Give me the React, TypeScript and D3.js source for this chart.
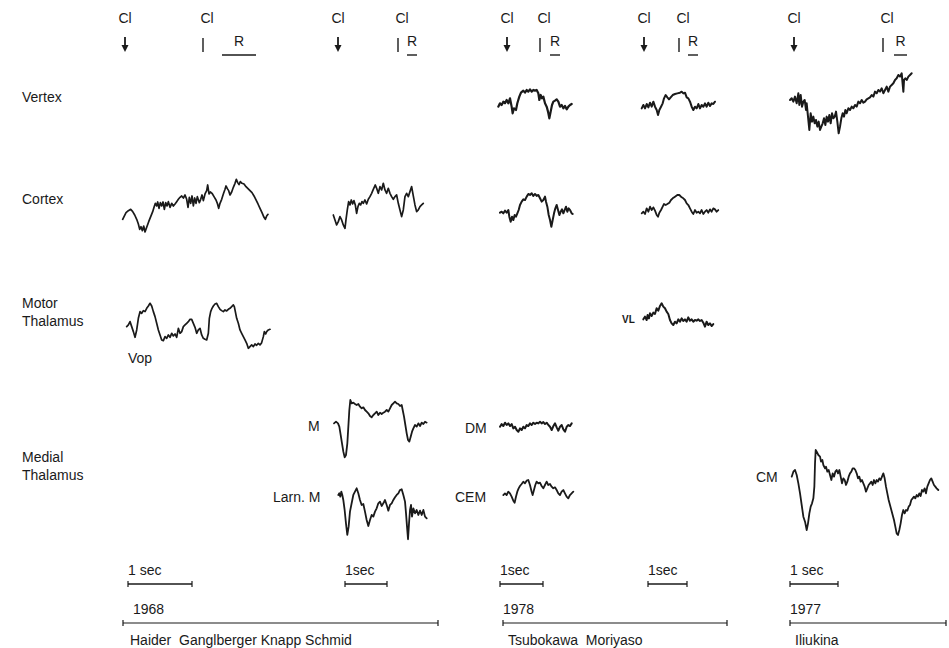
import React from "react";
import * as d3 from "d3";

// Each trace: [sample time, potential] pairs, potential plotted negative-up (EEG convention).
type Pt = [number, number];

const haiderCortexA: Pt[] = [
  [38,148],[42,140],[48,128],[55,122],[62,118],[68,125],[74,135],[80,148],[85,162],[89,178],[93,170],[97,182],[101,168],[105,186],[110,172],[116,155],[122,140],[128,125],[132,112],[136,100],[140,108],[143,96],[147,115],[151,98],[155,108],[159,96],[163,118],[167,98],[171,108],[175,95],[180,112],[185,100],[190,108],[195,102],[200,95],[205,88],[210,82],[215,78],[220,84],[225,75],[230,88],[234,112],[238,82],[242,100],[246,78],[250,108],[254,84],[258,100],[262,80],[268,98],[272,88],[276,75],[280,92],[285,72],[290,62],[293,45],[297,72],[301,66],[306,70],[312,80],[318,90],[322,100],[326,115],[330,100],[335,88],[340,72],[345,58],[348,48],[352,56],[356,62],[360,75],[365,66],[370,52],[375,40],[379,28],[383,38],[387,44],[391,35],[396,40],[402,42],[408,50],[414,56],[420,62],[426,68],[432,78],[438,90],[444,102],[450,115],[456,128],[462,142],[466,148],[470,138],[474,133]
];
const haiderCortexB: Pt[] = [
  [700,165],[705,180],[710,195],[715,185],[720,170],[725,180],[730,195],[735,205],[738,180],[742,150],[746,125],[750,135],[754,120],[758,132],[762,122],[766,135],[770,160],[774,140],[778,130],[782,135],[786,125],[790,130],[795,120],[800,132],[805,118],[810,110],[815,100],[820,88],[826,75],[830,85],[835,100],[840,80],[845,90],[850,70],[855,90],[860,100],[865,85],[870,100],[875,110],[880,118],[885,110],[890,105],[895,130],[900,150],[905,170],[910,150],[915,110],[920,100],[925,110],[930,95],[935,80],[940,108],[945,135],[950,155],[955,150],[960,140],[965,135],[970,130]
];
const tsubVertex: Pt[] = [
  [115,140],[120,130],[125,135],[130,125],[135,130],[140,120],[145,130],[150,115],[155,140],[158,160],[162,145],[168,150],[172,130],[178,110],[183,98],[190,92],[195,98],[200,90],[205,95],[210,88],[215,95],[220,90],[225,92],[230,90],[235,100],[238,120],[242,105],[246,115],[250,110],[255,130],[260,140],[264,155],[268,175],[272,155],[276,135],[280,125],[285,122],[290,118],[295,125],[300,140],[305,135],[310,145],[315,138],[320,148],[325,140],[330,135],[335,132]
];
const moriVertex: Pt[] = [
  [545,145],[550,135],[555,145],[560,132],[565,142],[570,128],[575,140],[580,125],[585,140],[590,150],[594,165],[598,150],[603,140],[608,130],[612,115],[617,105],[622,112],[627,118],[632,112],[638,105],[645,102],[652,100],[660,98],[665,95],[670,100],[675,98],[680,112],[685,115],[690,125],[695,140],[700,150],[705,140],[710,145],[715,132],[720,145],[725,135],[730,140],[735,130],[740,140],[745,128],[750,138],[755,130],[760,132],[765,125]
];
const iliukinaVertex: Pt[] = [
  [30,120],[35,115],[40,125],[45,110],[50,130],[55,100],[58,135],[62,105],[66,140],[70,125],[74,120],[78,150],[80,130],[84,170],[88,210],[92,160],[96,185],[100,170],[104,190],[108,180],[112,200],[116,185],[120,210],[124,200],[128,190],[132,175],[136,195],[140,170],[144,185],[148,165],[152,190],[156,160],[160,175],[164,170],[168,155],[172,185],[176,220],[180,200],[184,175],[188,160],[192,170],[196,150],[200,160],[205,145],[210,150],[215,140],[220,145],[225,135],[230,140],[235,125],[240,130],[245,120],[250,128],[255,125],[260,118],[265,115],[270,112],[275,105],[280,110],[285,95],[290,100],[295,90],[300,95],[305,85],[310,100],[315,90],[320,80],[325,95],[330,80],[335,75],[340,70],[345,60],[350,55],[355,45],[360,50],[365,40],[370,95],[372,60],[376,55],[380,60],[385,50],[390,45],[395,40]
];
const tsubCortex: Pt[] = [
  [120,458],[125,455],[130,460],[135,452],[140,458],[145,450],[148,470],[152,485],[156,470],[160,480],[164,465],[168,470],[172,460],[176,450],[180,435],[185,425],[190,418],[195,420],[200,410],[205,402],[210,405],[215,400],[220,408],[225,402],[230,408],[235,405],[240,415],[245,425],[250,420],[255,410],[258,425],[262,440],[266,465],[270,480],[274,500],[278,480],[282,460],[286,445],[290,435],[294,450],[298,465],[302,455],[306,448],[310,460],[314,450],[318,440],[322,455],[326,445],[330,450],[335,460],[338,462]
];
const moriCortex: Pt[] = [
  [545,460],[550,455],[555,462],[560,445],[565,455],[570,440],[575,450],[580,442],[585,452],[590,465],[594,470],[598,458],[603,450],[608,440],[612,432],[617,435],[622,432],[628,428],[633,420],[638,415],[645,410],[652,405],[658,405],[665,412],[670,415],[675,420],[680,430],[685,435],[690,445],[695,455],[700,462],[705,450],[710,458],[715,455],[720,460],[725,450],[730,462],[735,455],[740,450],[745,458],[750,448],[755,455],[760,445],[765,448],[770,455],[775,450]
];
const vopThalamus: Pt[] = [
  [80,140],[85,135],[90,125],[95,140],[100,155],[105,172],[110,150],[115,115],[120,95],[125,100],[130,92],[135,95],[140,85],[145,78],[150,70],[155,78],[160,95],[165,110],[170,130],[175,150],[180,165],[185,180],[190,182],[195,170],[200,175],[205,165],[210,172],[215,160],[220,168],[225,162],[230,172],[235,145],[240,160],[245,155],[250,140],[255,135],[260,130],[265,125],[270,118],[275,118],[280,130],[285,142],[290,160],[295,150],[300,145],[305,165],[310,175],[315,178],[320,180],[325,160],[328,115],[332,95],[336,85],[340,78],[345,72],[350,70],[355,80],[360,88],[365,92],[370,95],[375,90],[380,93],[385,88],[390,85],[395,80],[400,75],[403,80],[406,95],[410,115],[415,130],[420,150],[425,160],[430,170],[435,180],[440,190],[445,205],[450,200],[455,195],[460,200],[465,192],[470,196],[475,190],[480,195],[485,188],[490,170],[493,155],[497,162],[500,155],[505,150],[510,148]
];
const vlThalamus: Pt[] = [
  [130,88],[135,80],[140,90],[143,75],[147,85],[150,70],[155,78],[160,68],[165,72],[170,55],[175,62],[180,48],[185,40],[190,50],[195,55],[200,65],[205,72],[210,90],[215,100],[220,105],[225,95],[230,100],[235,88],[240,95],[245,85],[250,93],[255,88],[260,95],[265,82],[270,92],[275,88],[280,95],[285,90],[290,92],[295,88],[300,93],[305,90],[310,98],[315,110],[320,95],[325,105],[330,100],[335,108],[340,102]
];
const mThalamus: Pt[] = [
  [222,130],[228,125],[234,130],[238,140],[242,165],[246,190],[250,215],[254,232],[258,225],[262,190],[265,140],[268,90],[271,60],[275,70],[280,68],[285,72],[290,75],[295,72],[300,80],[305,85],[310,82],[315,90],[320,95],[325,100],[330,108],[335,112],[340,105],[345,100],[350,95],[355,105],[360,98],[365,102],[370,98],[375,95],[380,90],[385,95],[390,85],[395,75],[400,70],[405,65],[410,70],[415,72],[420,78],[425,75],[428,90],[432,110],[436,135],[440,160],[444,180],[448,185],[452,170],[456,155],[460,145],[465,135],[470,140],[475,130],[480,138],[485,128],[490,132],[495,125],[500,128]
];
const larnMThalamus: Pt[] = [
  [235,345],[238,340],[241,350],[244,335],[247,345],[250,360],[254,390],[258,430],[262,465],[266,440],[270,395],[275,370],[280,345],[285,335],[290,325],[295,340],[300,360],[305,375],[310,372],[315,395],[320,420],[325,438],[330,420],[335,405],[340,410],[345,395],[350,385],[355,370],[360,365],[365,378],[370,370],[375,360],[380,375],[385,392],[390,375],[395,370],[400,360],[405,352],[410,345],[415,340],[420,330],[425,328],[430,345],[435,365],[438,400],[441,440],[444,478],[447,430],[450,390],[453,375],[456,410],[460,385],[465,400],[470,390],[475,405],[480,392],[485,405],[490,390],[495,410],[500,415]
];
const dmThalamus: Pt[] = [
  [720,140],[725,132],[730,138],[735,128],[740,135],[745,130],[750,138],[755,132],[760,145],[765,140],[770,150],[775,155],[780,145],[785,150],[790,140],[795,145],[800,135],[805,138],[810,130],[815,135],[820,128],[825,132],[830,128],[835,130],[840,125],[845,130],[850,126],[855,132],[860,128],[865,135],[870,140],[875,150],[880,138],[885,130],[890,142],[895,152],[900,140],[905,135],[910,148],[915,155],[920,140],[925,135],[930,138],[935,130]
];
const cemThalamus: Pt[] = [
  [730,345],[735,340],[740,345],[745,335],[750,340],[755,350],[760,362],[764,368],[768,350],[772,335],[776,325],[780,318],[785,312],[790,305],[795,310],[800,302],[805,300],[810,315],[815,335],[818,345],[822,330],[826,315],[830,305],[835,310],[840,308],[845,318],[850,325],[855,315],[860,305],[865,315],[870,312],[875,320],[880,325],[885,322],[890,330],[895,340],[900,345],[905,335],[910,330],[915,340],[920,350],[925,355],[930,345],[935,340],[940,335]
];
const cmThalamus: Pt[] = [
  [155,170],[160,155],[165,150],[170,165],[175,190],[180,220],[185,255],[190,290],[195,305],[200,330],[204,310],[208,280],[212,260],[216,250],[220,235],[223,200],[225,130],[227,90],[230,95],[235,105],[240,110],[243,125],[247,120],[250,135],[255,145],[258,140],[262,155],[266,150],[270,165],[274,180],[278,160],[282,170],[286,155],[290,150],[294,160],[298,150],[302,170],[306,190],[310,175],[314,180],[318,195],[322,185],[326,170],[330,160],[334,155],[338,145],[342,145],[346,150],[350,160],[354,175],[358,170],[362,185],[366,180],[370,190],[374,200],[378,215],[382,205],[386,195],[390,190],[394,185],[398,195],[402,180],[406,190],[410,180],[414,185],[418,175],[422,180],[426,170],[430,160],[434,175],[438,200],[442,220],[446,240],[450,255],[454,270],[458,285],[462,300],[466,320],[470,340],[474,345],[478,330],[482,310],[486,285],[490,270],[494,280],[498,270],[502,272],[506,260],[510,255],[514,240],[518,235],[522,230],[526,235],[530,225],[534,230],[538,220],[542,228],[546,210],[550,215],[554,205],[558,220],[562,200],[566,190],[570,180],[574,175],[578,185],[582,195],[586,200],[590,205],[595,210]
];

// Text content
const rowLabels = [
  { lines: ["Vertex"], y: 102 },
  { lines: ["Cortex"], y: 204 },
  { lines: ["Motor", "Thalamus"], y: 308 },
  { lines: ["Medial", "Thalamus"], y: 462 },
];
const studyYears = ["1968", "1978", "1977"];
const studyAuthors = ["Haider  Ganglberger Knapp Schmid", "Tsubokawa  Moriyaso", "Iliukina"];
const secLabels = ["1 sec", "1sec", "1sec", "1sec", "1 sec"];

// Layout: where each trace sits on the page
const traceLayout = [
  { data: haiderCortexA, x: [122.7, 268], y: [179.3, 232], w: 1.7 },
  { data: haiderCortexB, x: [333.3, 423.3], y: [183.3, 228.3], w: 1.7 },
  { data: tsubVertex, x: [498.3, 571.7], y: [89.3, 118.3], w: 2.2 },
  { data: moriVertex, x: [641.7, 715], y: [91.7, 115], w: 2.0 },
  { data: iliukinaVertex, x: [790, 911.7], y: [73.3, 133.3], w: 2.0 },
  { data: tsubCortex, x: [500, 572.7], y: [193.3, 226.7], w: 2.0 },
  { data: moriCortex, x: [641.7, 718.3], y: [195, 216.7], w: 1.8 },
  { data: vopThalamus, x: [126.7, 270], y: [303.3, 348.3], w: 1.7 },
  { data: vlThalamus, x: [643.3, 713.3], y: [303.3, 326.7], w: 2.0 },
  { data: mThalamus, x: [334, 426.7], y: [400, 457.3], w: 1.8 },
  { data: larnMThalamus, x: [338.3, 426.7], y: [488.3, 539.3], w: 1.8 },
  { data: dmThalamus, x: [500, 571.7], y: [421.7, 431.7], w: 2.0 },
  { data: cemThalamus, x: [503.3, 573.3], y: [480, 502.7], w: 1.8 },
  { data: cmThalamus, x: [791.7, 938.3], y: [450, 535], w: 1.8 },
];

const traceLabels = [
  { text: "Vop", x: 128, y: 363 },
  { text: "M", x: 308, y: 431 },
  { text: "Larn. M", x: 273, y: 502 },
  { text: "DM", x: 465, y: 433 },
  { text: "CEM", x: 455, y: 502 },
  { text: "CM", x: 756, y: 482 },
];

// Stimulus markers per column
const columns = [
  { onset: 125, cl2: 203, rFrom: 222, rTo: 256, bar: [128, 192], year: 0 },
  { onset: 338, cl2: 398, rFrom: 407, rTo: 417, bar: [345, 387], year: -1 },
  { onset: 507, cl2: 540, rFrom: 550, rTo: 560, bar: [500, 543], year: 1 },
  { onset: 644, cl2: 679, rFrom: 688, rTo: 698, bar: [648, 687], year: -1 },
  { onset: 794, cl2: 883, rFrom: 894, rTo: 907, bar: [790, 838], year: 2 },
];
const studySpans = [
  [123, 438],
  [503, 727],
  [790, 946],
];

const W = 949;
const H = 648;
const FONT = "'Liberation Sans', Arial, sans-serif";
const INK = "#1a1a1a";

export default function App() {
  const line = d3.line<[number, number]>();

  const paths = traceLayout.map((t, i) => {
    const xs = d3.scaleLinear().domain(d3.extent(t.data, (d) => d[0]) as [number, number]).range(t.x);
    const ys = d3.scaleLinear().domain(d3.extent(t.data, (d) => d[1]) as [number, number]).range(t.y);
    const gen = d3.line<Pt>().x((d) => xs(d[0])).y((d) => ys(d[1]));
    return (
      <path key={i} d={gen(t.data) || ""} fill="none" stroke={INK} strokeWidth={t.w} strokeLinejoin="round" strokeLinecap="round" />
    );
  });

  return (
    <div style={{ position: "absolute", left: 0, top: 0 }}>
      <svg width={W} height={H} viewBox={`0 0 ${W} ${H}`} style={{ display: "block", background: "#fff" }}>
        <g fontFamily={FONT} fill={INK} fontSize={14}>
          {rowLabels.map((r, i) =>
            r.lines.map((l, j) => (
              <text key={`${i}-${j}`} x={22} y={r.y + j * 18}>
                {l}
              </text>
            ))
          )}
        </g>

        {/* stimulus markers */}
        <g fontFamily={FONT} fontSize={14} fill={INK}>
          {columns.map((c, i) => (
            <g key={i}>
              <text x={c.onset} y={23} textAnchor="middle">Cl</text>
              <line x1={c.onset} x2={c.onset} y1={37} y2={47} stroke={INK} strokeWidth={1.8} />
              <path d={`M${c.onset - 3.5},45 L${c.onset + 3.5},45 L${c.onset},52 Z`} fill={INK} />
              <text x={c.cl2 + 4} y={23} textAnchor="middle">Cl</text>
              <line x1={c.cl2} x2={c.cl2} y1={38} y2={52} stroke={INK} strokeWidth={1.4} />
              <text x={(c.rFrom + c.rTo) / 2} y={46} textAnchor="middle">R</text>
              <line x1={c.rFrom} x2={c.rTo} y1={55} y2={55} stroke={INK} strokeWidth={1.4} />
            </g>
          ))}
        </g>

        {paths}

        <g fontFamily={FONT} fontSize={14} fill={INK}>
          {traceLabels.map((l, i) => (
            <text key={i} x={l.x} y={l.y}>{l.text}</text>
          ))}
          <text x={622} y={323} fontSize={10} fontWeight="bold">VL</text>
        </g>

        {/* 1 sec calibration bars */}
        <g fontFamily={FONT} fontSize={14} fill={INK}>
          {columns.map((c, i) => {
            const s = d3.scaleLinear().domain([0, 1]).range(c.bar);
            return (
              <g key={i}>
                <text x={s(0)} y={575}>{secLabels[i]}</text>
                <line x1={s(0)} x2={s(1)} y1={584} y2={584} stroke={INK} strokeWidth={1.3} />
                <line x1={s(0)} x2={s(0)} y1={581} y2={587} stroke={INK} strokeWidth={1.2} />
                <line x1={s(1)} x2={s(1)} y1={581} y2={587} stroke={INK} strokeWidth={1.2} />
              </g>
            );
          })}
        </g>

        {/* study spans */}
        <g fontFamily={FONT} fontSize={14} fill={INK}>
          {studySpans.map((sp, i) => (
            <g key={i}>
              <text x={sp[0] + (i === 0 ? 10 : 0)} y={614}>{studyYears[i]}</text>
              <line x1={sp[0]} x2={sp[1]} y1={623} y2={623} stroke={INK} strokeWidth={1.2} />
              <line x1={sp[0]} x2={sp[0]} y1={620} y2={626} stroke={INK} strokeWidth={1.2} />
              <line x1={sp[1]} x2={sp[1]} y1={620} y2={626} stroke={INK} strokeWidth={1.2} />
              <text x={sp[0] + (i === 0 ? 7 : 5)} y={645} style={{ whiteSpace: "pre" }}>{studyAuthors[i]}</text>
            </g>
          ))}
        </g>
      </svg>
    </div>
  );
}
